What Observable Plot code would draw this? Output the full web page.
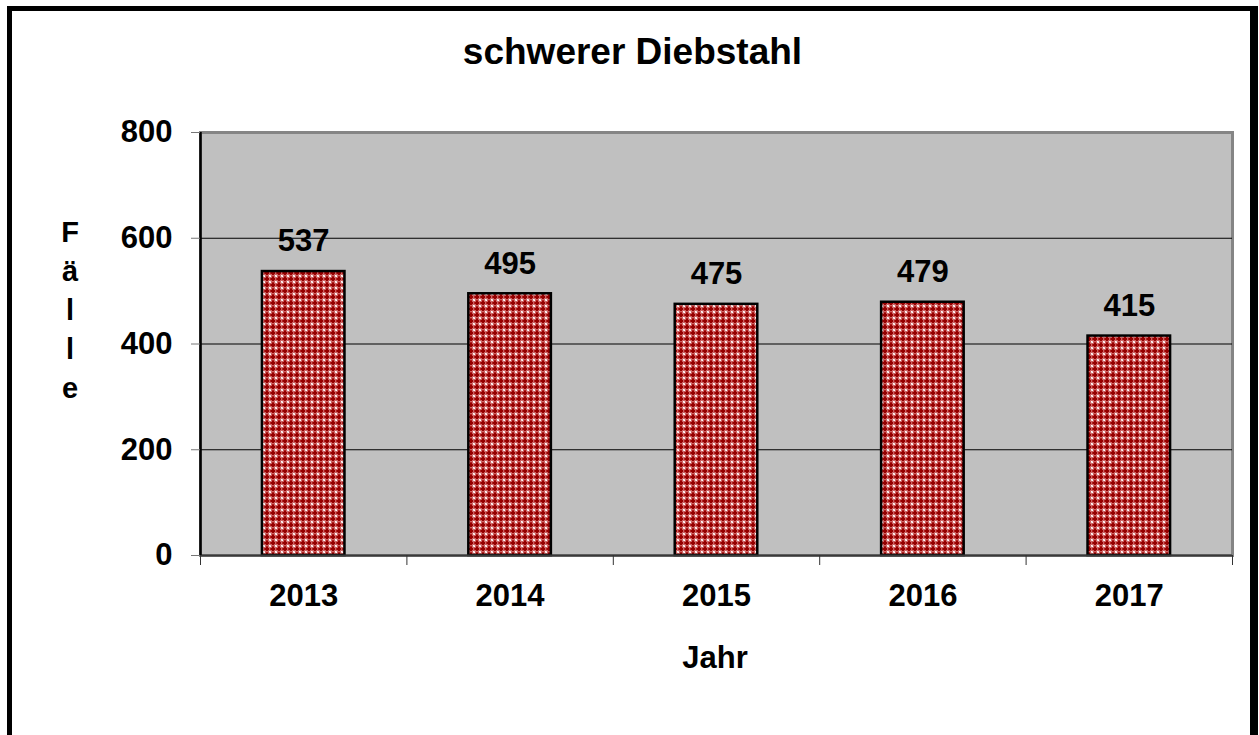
<!DOCTYPE html>
<html>
<head>
<meta charset="utf-8">
<script src="https://cdn.jsdelivr.net/npm/d3@7"></script>
<script src="https://cdn.jsdelivr.net/npm/@observablehq/plot@0.6"></script>
<style>
  html, body { margin: 0; padding: 0; background: #fff; }
  #wrap { position: relative; width: 1259px; height: 735px; overflow: hidden; font-family: "Liberation Sans", Arial, sans-serif; font-weight: bold; color: #000; }
  #border { position: absolute; left: 7px; top: 6px; width: 1251px; height: 800px; box-sizing: border-box; border-style: solid; border-color: #000; border-width: 5px 8px 5px 5px; }
  #title { position: absolute; left: 7px; width: 1251px; top: 31px; text-align: center; font-size: 37px; line-height: 42px; }
  #ylab { position: absolute; left: 50px; width: 40px; top: 213px; text-align: center; font-size: 29px; line-height: 39px; }
  #xlab { position: absolute; left: 615px; width: 200px; top: 640px; text-align: center; font-size: 31px; line-height: 36px; }
  #chart { position: absolute; left: 0; top: 0; }
</style>
</head>
<body>
<div id="wrap">
  <div id="border"></div>
  <div id="chart"></div>
  <div id="title"></div>
  <div id="ylab"></div>
  <div id="xlab"></div>
</div>
<script>
const titleText = "schwerer Diebstahl";
const yLabel = "Fälle";
const xLabel = "Jahr";
const years = [2013, 2014, 2015, 2016, 2017];
const cases = [537, 495, 475, 479, 415];
const yTicks = [0, 200, 400, 600, 800];
const gridValues = [200, 400, 600];

const data = years.map((y, i) => ({year: y, value: cases[i]}));
const bounds = [years[0] - 0.5, ...years.map(y => y + 0.5)];
const halfBar = 0.2;

document.getElementById("title").textContent = titleText;
document.getElementById("xlab").textContent = xLabel;
document.getElementById("ylab").innerHTML = Array.from(yLabel).map(c => `<div>${c}</div>`).join("");

const chart = Plot.plot({
  width: 1259,
  height: 735,
  marginLeft: 200,
  marginRight: 27,
  marginTop: 132,
  marginBottom: 180,
  style: {background: "transparent", fontFamily: "'Liberation Sans', Arial, sans-serif", fontWeight: "bold", fontSize: "31px", color: "#000", overflow: "visible"},
  x: {type: "linear", domain: [bounds[0], bounds[bounds.length - 1]], axis: null},
  y: {domain: [0, 800], axis: null, clamp: false},
  marks: [
    Plot.frame({fill: "#c0c0c0", stroke: "#858585", strokeWidth: 3}),
    Plot.ruleY(gridValues, {stroke: "#000", strokeWidth: 1}),
    Plot.rectY(data, {x1: d => d.year - halfBar, x2: d => d.year + halfBar, y1: 0, y2: "value", fill: "url(#pat)", stroke: "#000", strokeWidth: 2.5}),
    Plot.ruleY([0], {stroke: "#3a3a3a", strokeWidth: 2}),
    Plot.ruleX([bounds[0]], {stroke: "#000", strokeWidth: 2.5}),
    Plot.axisY({ticks: yTicks, tickSize: 9, tickPadding: 19, stroke: "#777", fontSize: 31, fontWeight: "bold", label: null, tickFormat: d => String(d)}),
    Plot.axisX({ticks: bounds, tickSize: 10, tickFormat: () => "", stroke: "#333", label: null}),
    Plot.axisX({ticks: years, tickSize: 0, tickPadding: 28, fontSize: 31, fontWeight: "bold", label: null, tickFormat: d => String(d)}),
    Plot.text(data, {x: "year", y: "value", text: d => String(d.value), dy: -30, fontSize: 31, fontWeight: "bold", fill: "#000"})
  ]
});

// pattern definition for the bar fill
const ns = "http://www.w3.org/2000/svg";
const defs = document.createElementNS(ns, "defs");
defs.innerHTML = `
  <pattern id="pat" patternUnits="userSpaceOnUse" width="6" height="6">
    <rect x="0" y="0" width="6" height="6" fill="#cc6464"/>
    <rect x="1" y="2" width="4" height="2" fill="#960000"/>
    <rect x="2" y="1" width="2" height="4" fill="#960000"/>
    <rect x="2" y="0" width="2" height="1" fill="#b02020"/>
    <rect x="0" y="2" width="1" height="2" fill="#b02020"/>
    <rect x="0" y="0" width="1" height="1" fill="#ffffff"/>
    <rect x="5" y="5" width="1" height="1" fill="#ffffff"/>
    <rect x="5" y="0" width="1" height="1" fill="#f2d2d2"/>
    <rect x="0" y="5" width="1" height="1" fill="#f2d2d2"/>
  </pattern>`;
chart.insertBefore(defs, chart.firstChild);
document.getElementById("chart").appendChild(chart);
</script>
</body>
</html>
